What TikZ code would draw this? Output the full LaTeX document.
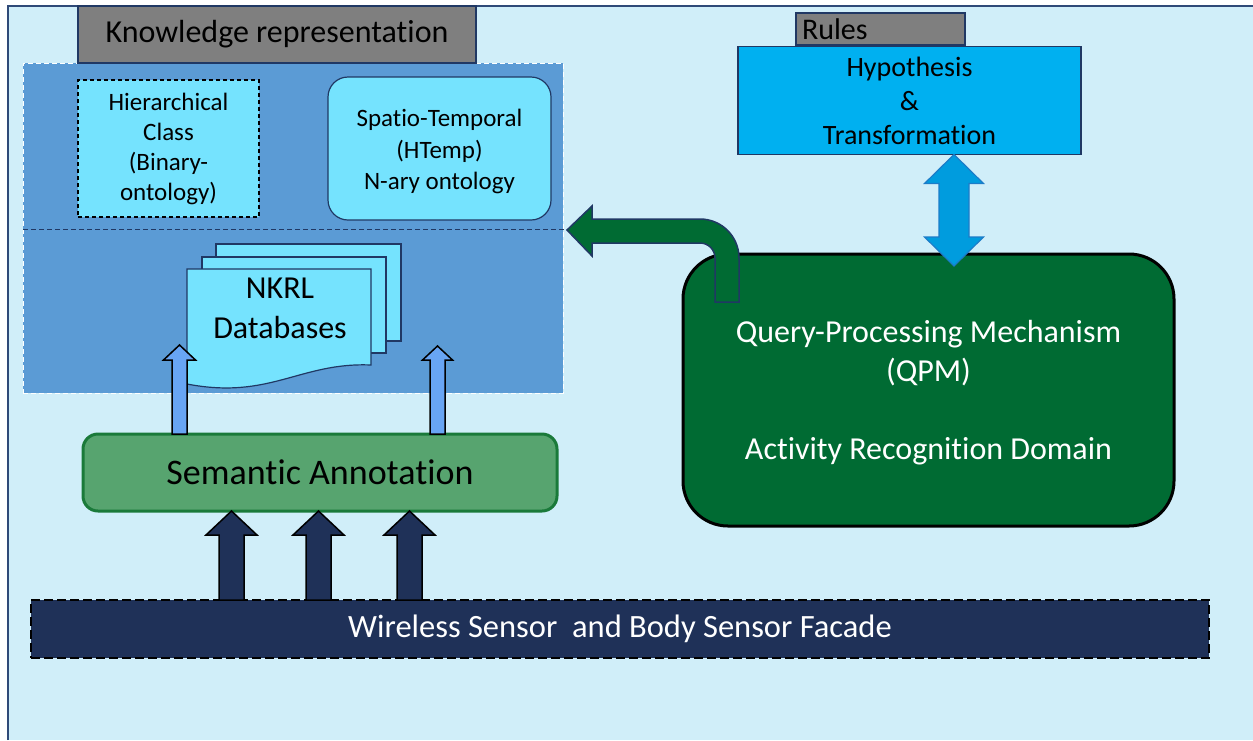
\documentclass[tikz,border=0pt]{standalone}
\usepackage{fontspec}
\setmainfont{Carlito}[Ligatures=NoCommon]
\usetikzlibrary{calc}

\definecolor{bgblue}{HTML}{D0EEF9}
\definecolor{frameblue}{HTML}{2F4A78}
\definecolor{panelblue}{HTML}{5B9BD5}
\definecolor{cyanbox}{HTML}{75E3FE}
\definecolor{greybox}{HTML}{7F7F7F}
\definecolor{hypblue}{HTML}{00B0F0}
\definecolor{navy}{HTML}{1F3158}
\definecolor{edgenavy}{HTML}{203864}
\definecolor{qpmgreen}{HTML}{006B33}
\definecolor{semgreen}{HTML}{57A46F}
\definecolor{semedge}{HTML}{1A7A3A}
\definecolor{lightarrow}{HTML}{68A5F4}
\definecolor{dblfill}{HTML}{009CDE}
\definecolor{dbledge}{HTML}{1C7CC8}

\newcommand\fs[2]{\fontsize{#1}{#2}\selectfont}

% upward block arrow: style, x, base anchor, tip anchor, half shaft, half head, head length
\newcommand\blockup[7]{%
  \path[#1] let \p1=(#3), \p2=(#4) in
    ({#2pt-#5pt},\y1) -- ({#2pt-#5pt},{\y2-#7pt}) -- ({#2pt-#6pt},{\y2-#7pt})
    -- (#2pt,\y2) -- ({#2pt+#6pt},{\y2-#7pt}) -- ({#2pt+#5pt},{\y2-#7pt})
    -- ({#2pt+#5pt},\y1) -- cycle;}

% vertical double block arrow: style, x, upper tip, lower tip, half shaft, half head, head length
\newcommand\blockupdown[7]{%
  \path[#1] let \p1=(#3), \p2=(#4) in
    (#2pt,\y1) -- ({#2pt+#6pt},{\y1-#7pt}) -- ({#2pt+#5pt},{\y1-#7pt})
    -- ({#2pt+#5pt},{\y2+#7pt}) -- ({#2pt+#6pt},{\y2+#7pt}) -- (#2pt,\y2)
    -- ({#2pt-#6pt},{\y2+#7pt}) -- ({#2pt-#5pt},{\y2+#7pt})
    -- ({#2pt-#5pt},{\y1-#7pt}) -- ({#2pt-#6pt},{\y1-#7pt}) -- cycle;}

\begin{document}
\begin{tikzpicture}[x=1pt,y=-1pt,
  every node/.style={outer sep=0pt, inner sep=0pt, align=center},
  greytab/.style={fill=greybox, draw=edgenavy, line width=1.2pt},
  cyanrect/.style={fill=cyanbox, draw=black, line width=1.2pt, dash pattern=on 4pt off 3pt},
  cyanround/.style={fill=cyanbox, draw=edgenavy, line width=1.2pt, rounded corners=20pt},
  page/.style={fill=cyanbox, draw=edgenavy, line width=1.2pt},
  lightup/.style={fill=lightarrow, draw=black, line width=1.5pt},
  darkup/.style={fill=navy, draw=black, line width=1.5pt},
  ]
\useasboundingbox (0,0) rectangle (1253,740);

% canvas and frame
\fill[white] (0,0) rectangle (1253,740);
\fill[bgblue] (8,6) rectangle (1253,740);
\draw[frameblue, line width=1.5pt] (8,740) -- (8,6) -- (1253,6);

% knowledge representation panel
\node[fill=panelblue, draw=white, line width=1pt, dash pattern=on 5pt off 3pt,
      minimum width=540pt, minimum height=330pt] (kb) at (293,228) {};
\draw[edgenavy, line width=0.9pt, dash pattern=on 5pt off 3pt] (kb.west |- 0,229) -- (566,229);

\node[greytab, minimum width=398pt, minimum height=57pt, font=\fs{32}{38}] (kr) at (277,34.5)
  {Knowledge representation};

\node[cyanrect, minimum width=181pt, minimum height=137pt, font=\fs{25}{30}] (hier) at (168.5,148.5)
  {Hierarchical\\Class\\(Binary-\\ontology)};

\node[cyanround, minimum width=223pt, minimum height=143pt] (spatio) at (439.5,148.5) {};
\node[font=\fs{25}{31.5}] (spatiotext) at ($(spatio.center)+(0,3)$)
  {Spatio-Temporal\\(HTemp)\\N-ary ontology};

% stacked NKRL database pages
\filldraw[page] (216,244) rectangle (401,341);
\filldraw[page] (202,257) rectangle (386,353);
\filldraw[page] (187,269) -- (371,269) -- (371,365)
  .. controls (300,362) and (270,400) .. (187,384) -- cycle;
\node[font=\fs{32}{40}] (nkrl) at (280,308) {NKRL\\Databases};

% semantic annotation layer
\node[fill=semgreen, draw=semedge, line width=3pt, rounded corners=15pt,
      minimum width=474pt, minimum height=77pt, font=\fs{36}{40}] (sem) at (320,472.5)
  {Semantic Annotation};

% sensor facade
\node[fill=navy, draw=black, line width=1.8pt, dash pattern=on 9pt off 4pt,
      minimum width=1178pt, minimum height=58pt, text=white, font=\fs{32.5}{38}] (wsn) at (620,629)
  {Wireless Sensor\ \ and Body Sensor Facade};

% rules block
\node[fill=hypblue, draw=edgenavy, line width=1.2pt, minimum width=343pt, minimum height=108pt,
      font=\fs{28}{34}] (hyp) at (909.5,100.5)
  {Hypothesis\\\&\\Transformation};
\node[greytab, text width=157pt, inner xsep=6pt, minimum height=32pt, align=left,
      font=\fs{30}{32}] (rules) at (880.5,29) {Rules};

% query processing block
\node[fill=qpmgreen, draw=black, line width=3pt, rounded corners=45pt,
      minimum width=491pt, minimum height=272pt] (qpm) at (928.5,390) {};
\node[text=white, font=\fs{32}{39}] (qpmtext) at ($(qpm.center)+(0,2.5)$)
  {Query-Processing Mechanism\\(QPM)\\[39pt]Activity Recognition Domain};

% arrows from sensors to annotation
\blockup{darkup}{231.5}{wsn.north}{sem.south}{12.5}{25.5}{24}
\blockup{darkup}{318.5}{wsn.north}{sem.south}{12.5}{25.5}{24}
\blockup{darkup}{409.5}{wsn.north}{sem.south}{12.5}{25.5}{24}

% arrows from annotation into the knowledge base
\coordinate (kbinA) at (179.5,345);
\coordinate (kbinB) at (437.5,346);
\blockup{lightup}{179.5}{sem.north}{kbinA}{7.5}{16}{15}
\blockup{lightup}{437.5}{sem.north}{kbinB}{7.5}{15}{14}

% rules <-> query processing
\coordinate (qpmin) at ($(qpm.north)+(0,12)$);
\blockupdown{fill=dblfill, draw=dbledge, line width=1.2pt}{954}{hyp.south}{qpmin}{15}{29.5}{29}

% bent arrow from query processing back to the knowledge base
\filldraw[fill=qpmgreen, draw=edgenavy, line width=1.5pt]
  (567,230) -- (592,206) -- (592,219) -- (700,219)
  arc[start angle=-90, end angle=0, radius=39] -- (739,302) -- (715,302) -- (715,258)
  arc[start angle=0, end angle=-90, radius=15] -- (592,243) -- (592,256) -- cycle;

\end{tikzpicture}
\end{document}
